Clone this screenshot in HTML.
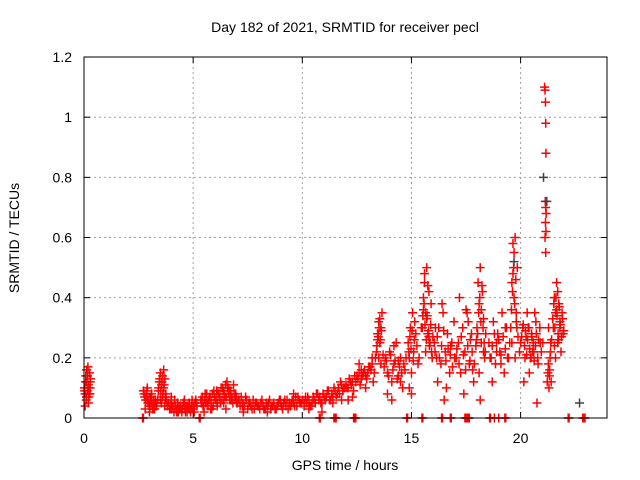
<!DOCTYPE html>
<html><head><meta charset="utf-8"><style>
body{margin:0;background:#fff}
svg{display:block;font-family:"Liberation Sans",sans-serif}
</style></head><body>
<svg id="chart" width="640" height="480">
<rect x="0" y="0" width="640" height="480" fill="#fff"/>
<text x="345" y="32" font-size="14" text-anchor="middle">Day 182 of 2021, SRMTID for receiver pecl</text>
<text x="345" y="470" font-size="14" text-anchor="middle">GPS time / hours</text>
<text transform="translate(19,238) rotate(-90)" font-size="14" text-anchor="middle">SRMTID / TECUs</text>
<g id="grid"></g><g id="axes"></g><g id="marks"></g>
<rect x="84" y="57" width="523" height="361" fill="none" stroke="#000" stroke-width="1"/>
</svg>
<script>
const xTicks=[0,5,10,15,20];
const yTicks=[0,0.2,0.4,0.6,0.8,1,1.2];
const yTickLabels=["0","0.2","0.4","0.6","0.8","1","1.2"];
const zeroTimes=[2.68,2.72,5.28,5.32,10.78,10.82,11.45,11.5,11.55,12.35,12.4,12.45,14.78,14.82,15.48,15.52,16.38,16.42,16.78,16.82,17.45,17.5,17.55,17.6,17.65,18.58,18.62,18.8,19.0,19.28,19.32,22.18,22.22,22.85,22.9,22.95];
const times=[0.02,0.05,0.08,0.1,0.12,0.15,0.18,0.2,0.22,0.25,0.28,0.3,0.05,0.12,0.2,0.27,
2.72,2.78,2.85,2.9,2.95,3.0,3.05,3.1,3.15,3.2,3.25,3.3,2.8,2.9,3.0,3.1,3.2,
3.4,3.45,3.5,3.55,3.6,3.65,3.7,3.75,3.5,3.6,3.7,3.55,3.65,
3.85,3.95,4.05,4.15,4.25,4.35,4.45,4.55,4.65,4.75,4.85,4.95,5.05,5.15,4.0,4.3,4.6,4.9,
5.35,5.45,5.55,5.65,5.75,5.85,5.95,6.05,6.15,6.25,6.35,6.45,6.55,6.65,6.75,6.85,6.95,5.5,5.8,6.1,6.4,6.5,6.6,7.0,
7.1,7.25,7.4,7.55,7.7,7.85,8.0,8.15,8.3,8.45,8.6,8.75,8.9,9.05,9.2,9.35,9.5,9.65,9.8,9.95,7.3,7.8,8.4,9.0,9.6,
10.1,10.25,10.4,10.55,10.7,10.85,11.0,11.15,11.3,11.45,11.6,11.75,11.9,10.3,10.9,11.4,11.8,
12.05,12.2,12.35,12.5,12.65,12.8,12.95,13.1,13.25,12.3,12.6,12.9,13.2,12.1,12.7,
13.4,13.45,13.5,13.55,13.6,13.65,13.5,13.6,13.45,13.55,
13.8,13.9,14.0,14.1,14.2,14.3,14.4,14.5,14.6,14.7,13.9,14.2,14.5,14.1,14.4,
14.85,14.9,14.95,15.0,15.05,15.1,15.2,15.3,14.9,15.0,15.15,
15.5,15.55,15.6,15.65,15.7,15.75,15.8,15.85,15.9,15.95,15.6,15.7,15.8,15.55,15.65,15.75,
16.05,16.15,16.25,16.35,16.45,16.55,16.65,16.75,16.85,16.95,16.2,16.4,16.6,16.8,16.1,16.5,
17.05,17.15,17.25,17.35,17.45,17.55,17.65,17.75,17.85,17.95,17.2,17.4,17.6,17.8,17.5,17.7,
18.0,18.05,18.1,18.15,18.2,18.25,18.3,18.35,18.4,18.1,18.2,18.3,18.15,
18.55,18.65,18.75,18.85,18.95,19.05,19.15,19.25,19.35,19.45,18.7,18.9,19.1,19.3,
19.55,19.6,19.65,19.7,19.75,19.8,19.85,19.6,19.7,19.8,19.65,19.75,
20.0,20.1,20.2,20.3,20.4,20.5,20.6,20.7,20.8,20.9,20.15,20.35,20.55,20.75,20.25,20.65,20.45,
21.1,21.12,21.14,21.15,21.16,21.13,21.15,21.17,21.14,21.16,21.12,21.15,
21.25,21.3,21.35,21.4,21.28,21.33,21.38,
21.5,21.55,21.6,21.65,21.7,21.75,21.8,21.85,21.9,21.95,21.6,21.7,21.8,21.55,21.65,21.75];
const values=[0.1,0.08,0.14,0.06,0.12,0.09,0.17,0.11,0.07,0.15,0.1,0.13,0.04,0.16,0.05,0.08,
0.09,0.07,0.08,0.06,0.05,0.04,0.07,0.05,0.03,0.06,0.04,0.05,0.03,0.1,0.02,0.08,0.03,
0.09,0.12,0.15,0.11,0.14,0.1,0.13,0.08,0.06,0.07,0.04,0.05,0.16,
0.05,0.03,0.04,0.06,0.02,0.04,0.03,0.05,0.02,0.04,0.03,0.06,0.02,0.05,0.07,0.02,0.06,0.03,
0.06,0.04,0.08,0.05,0.07,0.03,0.09,0.06,0.08,0.05,0.1,0.07,0.12,0.09,0.06,0.11,0.08,0.02,0.03,0.04,0.05,0.03,0.1,0.05,
0.06,0.04,0.07,0.05,0.03,0.05,0.04,0.06,0.03,0.05,0.04,0.03,0.05,0.04,0.06,0.03,0.05,0.04,0.07,0.05,0.02,0.03,0.02,0.06,0.08,
0.05,0.07,0.04,0.06,0.08,0.05,0.07,0.09,0.06,0.1,0.08,0.12,0.1,0.03,0.02,0.05,0.06,
0.1,0.12,0.09,0.14,0.11,0.15,0.13,0.17,0.12,0.07,0.18,0.1,0.2,0.06,0.16,
0.22,0.28,0.32,0.25,0.3,0.35,0.2,0.18,0.26,0.33,
0.2,0.15,0.22,0.12,0.18,0.25,0.14,0.2,0.1,0.16,0.08,0.24,0.12,0.06,0.19,
0.25,0.2,0.3,0.15,0.35,0.22,0.28,0.18,0.1,0.08,0.32,
0.3,0.4,0.45,0.35,0.5,0.28,0.42,0.25,0.38,0.2,0.48,0.33,0.27,0.36,0.22,0.44,
0.25,0.2,0.3,0.18,0.35,0.22,0.28,0.15,0.25,0.32,0.12,0.38,0.1,0.24,0.3,0.06,
0.2,0.25,0.15,0.3,0.22,0.35,0.18,0.28,0.12,0.24,0.4,0.08,0.32,0.16,0.36,0.26,
0.3,0.45,0.38,0.5,0.25,0.42,0.33,0.2,0.28,0.15,0.36,0.22,0.06,
0.25,0.2,0.32,0.18,0.28,0.22,0.35,0.15,0.3,0.2,0.12,0.25,0.18,0.3,
0.3,0.45,0.58,0.4,0.6,0.35,0.5,0.25,0.55,0.32,0.48,0.2,
0.25,0.3,0.2,0.35,0.15,0.28,0.22,0.32,0.18,0.25,0.12,0.3,0.22,0.05,0.27,0.35,0.2,
1.1,1.09,1.05,0.98,0.88,0.72,0.7,0.68,0.65,0.62,0.6,0.55,
0.15,0.1,0.2,0.12,0.3,0.16,0.25,
0.3,0.4,0.35,0.45,0.25,0.38,0.3,0.22,0.35,0.28,0.2,0.42,0.32,0.24,0.36,0.26];
const bandTimes=[0.03,0.07,0.11,0.16,0.21,0.26,0.29,
2.75,2.82,2.88,2.93,2.98,3.03,3.08,3.13,3.18,3.23,3.28,3.33,3.38,3.42,3.47,3.52,3.57,3.62,3.67,3.72,3.77,3.82,3.88,3.92,3.98,4.02,4.08,4.12,4.18,4.22,4.28,4.32,4.38,4.42,4.48,4.52,4.58,4.62,4.68,4.72,4.78,4.82,4.88,4.92,4.98,5.02,5.08,5.12,5.18,
5.38,5.42,5.48,5.52,5.58,5.62,5.68,5.72,5.78,5.82,5.88,5.92,5.98,6.02,6.08,6.12,6.18,6.22,6.28,6.32,6.38,6.42,6.48,6.52,6.58,6.62,6.68,6.72,6.78,6.82,6.88,6.92,6.98,
7.02,7.08,7.15,7.2,7.28,7.35,7.45,7.5,7.6,7.65,7.75,7.8,7.9,7.95,8.05,8.1,8.2,8.25,8.35,8.4,8.5,8.55,8.65,8.7,8.8,8.85,8.95,9.0,9.1,9.15,9.25,9.3,9.4,9.45,9.55,9.6,9.7,9.75,9.85,9.9,
10.02,10.08,10.15,10.2,10.3,10.35,10.45,10.5,10.6,10.65,10.75,10.8,10.9,10.95,11.05,11.1,11.2,11.25,11.35,11.4,11.5,11.55,11.65,11.7,11.8,11.85,11.95,
12.0,12.1,12.15,12.25,12.3,12.4,12.45,12.55,12.6,12.7,12.75,12.85,12.9,13.0,13.05,13.15,13.2,13.3,13.35,
13.42,13.48,13.52,13.58,13.62,13.7,13.75,13.85,13.95,14.05,14.15,14.25,14.35,14.45,14.55,14.65,14.75,
14.88,14.93,14.98,15.03,15.08,15.13,15.25,15.35,15.45,15.52,15.58,15.62,15.68,15.72,15.78,15.82,15.88,15.92,15.98,
16.08,16.18,16.28,16.38,16.48,16.58,16.68,16.78,16.88,16.98,17.08,17.18,17.28,17.38,17.48,17.58,17.68,17.78,17.88,17.98,
18.03,18.08,18.13,18.18,18.23,18.28,18.33,18.38,18.6,18.7,18.8,18.9,19.0,19.1,19.2,19.3,19.4,19.5,
19.58,19.63,19.68,19.73,19.78,19.83,19.88,19.95,20.05,20.12,20.18,20.22,20.28,20.32,20.38,20.42,20.48,20.52,20.58,20.62,20.68,20.72,20.78,20.82,20.88,20.95,21.02,
21.22,21.27,21.32,21.37,21.42,21.47,21.52,21.57,21.62,21.67,21.72,21.77,21.82,21.87,21.92,21.98];
const bandValues=[0.09,0.12,0.07,0.14,0.1,0.08,0.12,
0.08,0.06,0.09,0.05,0.07,0.04,0.06,0.04,0.05,0.03,0.06,0.04,0.06,0.1,0.13,0.09,0.12,0.08,0.11,0.07,0.06,0.04,0.05,0.03,0.05,0.03,0.04,0.02,0.04,0.03,0.05,0.02,0.03,0.04,0.02,0.03,0.05,0.03,0.04,0.02,0.03,0.05,0.02,0.04,0.03,0.04,0.05,0.06,0.04,
0.05,0.07,0.04,0.06,0.05,0.08,0.04,0.06,0.07,0.05,0.08,0.04,0.07,0.06,0.09,0.05,0.08,0.07,0.1,0.06,0.09,0.08,0.11,0.07,0.1,0.08,0.06,0.09,0.07,0.05,0.08,0.06,0.07,
0.05,0.06,0.04,0.07,0.05,0.04,0.06,0.03,0.05,0.04,0.06,0.03,0.05,0.04,0.03,0.05,0.04,0.03,0.05,0.04,0.06,0.03,0.04,0.05,0.03,0.04,0.06,0.05,0.03,0.05,0.04,0.06,0.05,0.04,0.06,0.05,0.07,0.04,0.06,0.05,
0.06,0.04,0.07,0.05,0.06,0.04,0.05,0.07,0.05,0.08,0.06,0.07,0.05,0.08,0.06,0.07,0.09,0.06,0.08,0.07,0.09,0.07,0.1,0.08,0.11,0.09,0.1,
0.11,0.1,0.13,0.11,0.12,0.14,0.12,0.13,0.15,0.13,0.14,0.16,0.14,0.15,0.17,0.16,0.18,0.15,0.2,
0.24,0.27,0.3,0.26,0.29,0.21,0.17,0.19,0.14,0.21,0.16,0.19,0.13,0.17,0.15,0.18,0.2,
0.22,0.27,0.23,0.29,0.19,0.26,0.24,0.2,0.3,0.34,0.38,0.31,0.26,0.34,0.29,0.24,0.31,0.22,0.27,
0.22,0.27,0.2,0.24,0.29,0.19,0.23,0.21,0.17,0.2,0.23,0.18,0.27,0.21,0.16,0.24,0.19,0.22,0.18,0.26,
0.28,0.35,0.4,0.32,0.44,0.3,0.25,0.22,0.2,0.24,0.28,0.22,0.26,0.21,0.27,0.23,0.2,0.25,
0.36,0.42,0.5,0.38,0.46,0.3,0.27,0.22,0.27,0.31,0.24,0.29,0.21,0.26,0.3,0.23,0.2,0.27,0.25,0.19,0.24,0.28,0.2,0.26,0.3,0.22,0.25,
0.12,0.18,0.14,0.22,0.26,0.33,0.38,0.3,0.4,0.34,0.28,0.37,0.31,0.27,0.33,0.29];
const grayTimes=[21.05,22.7,19.7,21.2];
const grayValues=[0.8,0.05,0.52,0.72];

const NS="http://www.w3.org/2000/svg";
const X0=84,XS=21.83,Y0=418,YS=300.8;
const xs=t=>X0+t*XS, ys=v=>Y0-v*YS;
const grid=document.getElementById('grid'),axes=document.getElementById('axes'),marks=document.getElementById('marks');
function mk(tag,attrs,parent){const e=document.createElementNS(NS,tag);for(const k in attrs)e.setAttribute(k,attrs[k]);parent.appendChild(e);return e;}
xTicks.forEach(t=>{const x=xs(t);
 if(t>0){const g=mk('line',{x1:x,x2:x,y1:57,y2:418,stroke:'#a0a0a0','stroke-dasharray':'2,3'},grid);
 
 }
 mk('line',{x1:x,x2:x,y1:418,y2:412,stroke:'#000'},axes);
 mk('line',{x1:x,x2:x,y1:57,y2:63,stroke:'#000'},axes);
 const l=mk('text',{x:x,y:443,'font-size':14,'text-anchor':'middle'},axes);l.textContent=t;
 
 });
yTicks.forEach((v,i)=>{const y=ys(v);
 if(v>0&&v<1.2){const g=mk('line',{x1:84,x2:607,y1:y,y2:y,stroke:'#a0a0a0','stroke-dasharray':'2,3'},grid);
 
 }
 mk('line',{x1:84,x2:90,y1:y,y2:y,stroke:'#000'},axes);
 mk('line',{x1:601,x2:607,y1:y,y2:y,stroke:'#000'},axes);
 const l=mk('text',{x:72,y:y+5,'font-size':14,'text-anchor':'end'},axes);l.textContent=yTickLabels[i];
 
 });
function plus(t,v,c,name){const x=xs(t),y=ys(v);
 const p=mk('path',{d:`M${x-4.5},${y}H${x+4.5}M${x},${y-4.5}V${y+4.5}`,stroke:c,'stroke-width':1.5,fill:'none'},marks);
 
 }
times.forEach((t,i)=>plus(t,values[i],'#ff0000','data-point'));
bandTimes.forEach((t,i)=>plus(t,bandValues[i],'#ff0000','data-point'));
zeroTimes.forEach(t=>plus(t,0,'#ff0000','zero-point'));
grayTimes.forEach((t,i)=>plus(t,grayValues[i],'#404040','gray-data-point'));
</script>
</body></html>
